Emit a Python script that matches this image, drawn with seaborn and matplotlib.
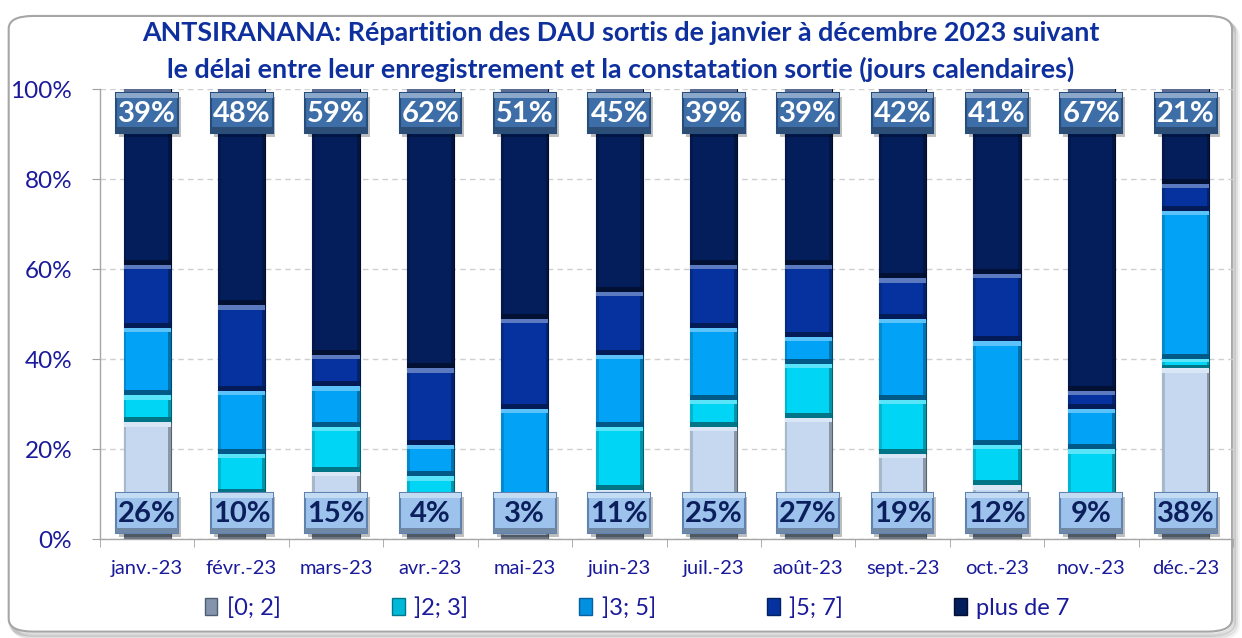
import numpy as np
import pandas as pd
import matplotlib
matplotlib.use("Agg")
import matplotlib.pyplot as plt
from matplotlib.patches import FancyBboxPatch, Rectangle, Patch
import matplotlib.colors as mcolors
import seaborn as sns

months = ["janv.-23", "févr.-23", "mars-23", "avr.-23", "mai-23", "juin-23",
          "juil.-23", "août-23", "sept.-23", "oct.-23", "nov.-23", "déc.-23"]
cats = ["[0; 2]", "]2; 3]", "]3; 5]", "]5; 7]", "plus de 7"]

d0_2 = [26, 10, 15, 4, 3, 11, 25, 27, 19, 12, 9, 38]
d2_3 = [6, 9, 10, 10, 1, 14, 6, 12, 12, 9, 11, 2]
d3_5 = [15, 14, 9, 7, 25, 16, 16, 6, 18, 23, 9, 33]
d5_7 = [14, 19, 7, 17, 20, 14, 14, 16, 9, 15, 4, 6]
d7p = [39, 48, 59, 62, 51, 45, 39, 39, 42, 41, 67, 21]

colors = {
    "[0; 2]": "#C5D8EF",
    "]2; 3]": "#00D5F5",
    "]3; 5]": "#02A2F6",
    "]5; 7]": "#05329E",
    "plus de 7": "#041E5C",
}
legend_colors = {
    "[0; 2]": "#8394AC",
    "]2; 3]": "#00B8D8",
    "]3; 5]": "#0290E0",
    "]5; 7]": "#05329E",
    "plus de 7": "#041E5C",
}
edge_colors = {
    "[0; 2]": "#4F5D70",
    "]2; 3]": "#00788C",
    "]3; 5]": "#0760A0",
    "]5; 7]": "#03215F",
    "plus de 7": "#020F33",
}

series = [d0_2, d2_3, d3_5, d5_7, d7p]
rows = []
for cat, vals in zip(cats, series):
    for i, v in enumerate(vals):
        rows.append({"mois": i, "tranche": cat, "pct": v})
df = pd.DataFrame(rows)

TXT = "#1A1A9C"
TITLE = "#0E2F9E"
plt.rcParams["font.family"] = ["Lato", "DejaVu Sans"]

fig = plt.figure(figsize=(12.42, 6.38), dpi=100)

# rounded frame with soft shadow
for k, a in enumerate([0.05, 0.08, 0.12]):
    off = (3 - k) * 0.0015
    fig.patches.append(FancyBboxPatch((0.007 + off, 0.008 - off * 2), 0.985, 0.965,
                                      boxstyle="round,pad=0,rounding_size=0.02",
                                      transform=fig.transFigure, facecolor="none",
                                      edgecolor=(0, 0, 0, a), linewidth=3, zorder=-3))
fig.patches.append(FancyBboxPatch((0.007, 0.01), 0.985, 0.965,
                                  boxstyle="round,pad=0,rounding_size=0.02",
                                  transform=fig.transFigure, facecolor="white",
                                  edgecolor="#A6A6A6", linewidth=1.5, zorder=-2))

ax = fig.add_axes([100 / 1242, 99 / 638, 1133 / 1242, 450 / 638])
ax.set_facecolor("none")

sns.histplot(data=df, x="mois", weights="pct", hue="tranche",
             hue_order=cats[::-1], multiple="stack", discrete=True,
             shrink=0.5, palette=colors, alpha=1, linewidth=0,
             legend=False, ax=ax, zorder=3)

# bevel: light band at top, dark band at bottom, shaded side edges
for p in list(ax.patches):
    x, y, w, h = p.get_x(), p.get_y(), p.get_width(), p.get_height()
    if h <= 0:
        continue
    base = np.array(mcolors.to_rgb(p.get_facecolor()))
    light = base + (1 - base) * 0.35
    dark = base * 0.55
    p.set_edgecolor(tuple(base * 0.45))
    p.set_linewidth(0.8)
    bh = min(1.1, h / 3)
    ax.add_patch(Rectangle((x, y + h - bh), w, bh, facecolor=light,
                           edgecolor="none", zorder=3.2))
    ax.add_patch(Rectangle((x, y), w, bh, facecolor=dark,
                           edgecolor="none", zorder=3.2))
    sw = w * 0.06
    ax.add_patch(Rectangle((x + w - sw, y), sw, h, facecolor=tuple(base * 0.7),
                           edgecolor="none", zorder=3.1))
    ax.add_patch(Rectangle((x, y), sw, h, facecolor=tuple(base * 0.85),
                           edgecolor="none", zorder=3.1))

ax.set_xlim(-0.5, len(months) - 0.5)
ax.set_ylim(0, 100)
ax.set_yticks(np.arange(0, 101, 20))
ax.set_yticklabels([f"{v}%" for v in range(0, 101, 20)], fontsize=17.5, color=TXT)
ax.set_xticks(range(len(months)))
ax.set_xticklabels(months, fontsize=14.5, color=TXT)
ax.set_xticks(np.arange(-0.5, len(months), 1), minor=True)
ax.tick_params(axis="x", which="major", length=0, pad=15)
ax.tick_params(axis="x", which="minor", length=6, color="#A0A0A0")
ax.tick_params(axis="y", length=6, color="#A0A0A0", pad=14)
ax.set_xlabel("")
ax.set_ylabel("")
ax.grid(axis="y", linestyle=(0, (4, 3)), color="#CFCFCF", linewidth=1, zorder=0)
ax.grid(axis="x", visible=False)
ax.set_axisbelow(True)
ax.spines["top"].set_visible(False)
for s in ["left", "bottom", "right"]:
    ax.spines[s].set_color("#A6A6A6")
    ax.spines[s].set_linewidth(1)
ax.spines["right"].set_color("#D0D0D0")


def label_box(xc, yc, txt, face, edge, tcolor):
    bw, bhh = 0.655, 8.9
    ax.add_patch(Rectangle((xc - bw / 2 + 0.03, yc - bhh / 2 - 0.9), bw, bhh,
                           facecolor=(0, 0, 0, 0.25), edgecolor="none", zorder=5))
    ax.add_patch(Rectangle((xc - bw / 2, yc - bhh / 2), bw, bhh,
                           facecolor=face, edgecolor=edge, linewidth=1.5, zorder=6))
    base = np.array(mcolors.to_rgb(face))
    ax.add_patch(Rectangle((xc - bw / 2, yc + bhh / 2 - 1.2), bw, 1.2,
                           facecolor=tuple(base + (1 - base) * 0.4),
                           edgecolor="none", zorder=6.1))
    ax.add_patch(Rectangle((xc - bw / 2, yc - bhh / 2), bw, 1.2,
                           facecolor=tuple(base * 0.7), edgecolor="none", zorder=6.1))
    ax.text(xc, yc - 0.3, txt, ha="center", va="center", fontsize=21,
            fontweight="bold", color=tcolor, zorder=7)


for i in range(len(months)):
    label_box(i, 94.7, f"{d7p[i]}%", "#3D6EA8", "#264D7C", "white")
    label_box(i, 5.8, f"{d0_2[i]}%", "#9DC3EC", "#5F82AE", "#0B1F5C")

fig.text(0.5, 0.948, "ANTSIRANANA: Répartition des DAU sortis de janvier à décembre 2023 suivant",
         ha="center", va="center", fontsize=19.4, fontweight="bold", color=TITLE)
fig.text(0.5, 0.892, "le délai entre leur enregistrement et la constatation sortie (jours calendaires)",
         ha="center", va="center", fontsize=19.4, fontweight="bold", color=TITLE)

handles = [Patch(facecolor=legend_colors[c], edgecolor=edge_colors[c]) for c in cats]
leg = fig.legend(handles, cats, loc="center", bbox_to_anchor=(0.513, 0.047),
                 ncol=5, frameon=False, fontsize=17, handlelength=0.55,
                 handleheight=0.7, handletextpad=0.4, columnspacing=4.7)
for t in leg.get_texts():
    t.set_color(TXT)

fig.savefig("out.png", dpi=100)
